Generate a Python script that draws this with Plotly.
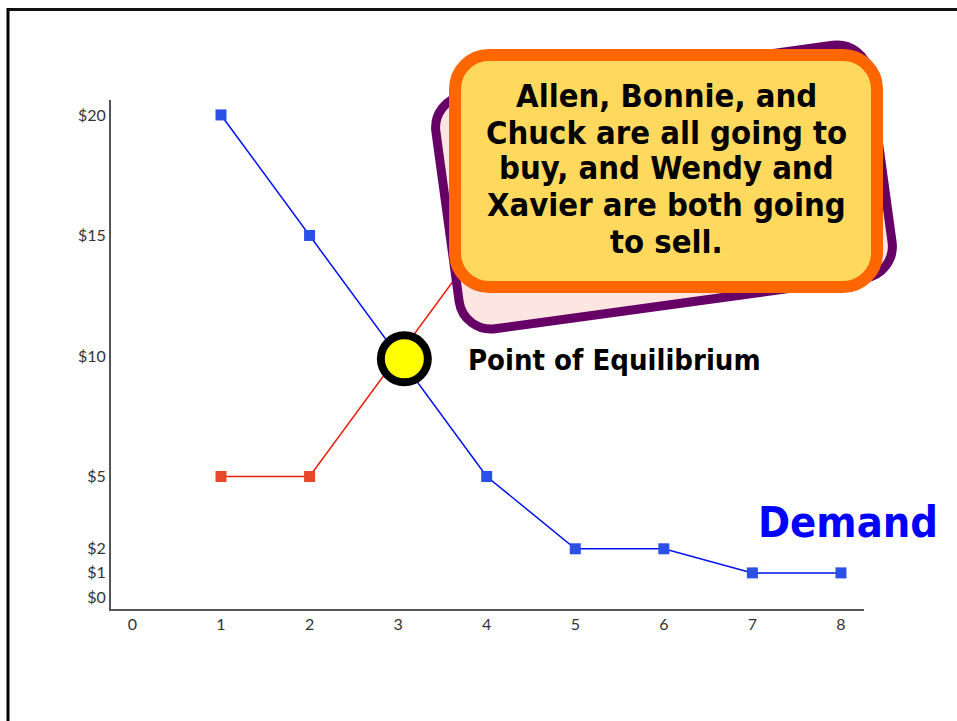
import math
import plotly.graph_objects as go

# ---- data ----
demand_q = [1, 2, 3, 4, 5, 6, 7, 8]
demand_p = [20, 15, 10, 5, 2, 2, 1, 1]
supply_q = [1, 2, 3, 4]
supply_p = [5, 5, 10, 15]
eq_q = [3.07]
eq_p = [9.88]
x_ticks = [0, 1, 2, 3, 4, 5, 6, 7, 8]
y_ticks = [0, 1, 2, 5, 10, 15, 20]
y_tick_labels = ["$0", "$1", "$2", "$5", "$10", "$15", "$20"]
callout_lines = [
    "Allen, Bonnie, and",
    "Chuck are all going to",
    "buy, and Wendy and",
    "Xavier are both going",
    "to sell.",
]
eq_label = "Point of Equilibrium"
demand_label = "Demand"

W, H = 957, 721
L, R, T, B = 111, 864, 100, 609


def px(x):
    return (x - L) / (R - L)


def py(y):
    return (B - y) / (B - T)


def rounded_rect_path(cx, cy, w, h, r, theta_deg):
    th = math.radians(theta_deg)
    c, s = math.cos(th), math.sin(th)

    def tr(u, v):
        x = cx + u * c + v * s
        y = cy - u * s + v * c
        return f"{px(x):.5f},{py(y):.5f}"

    k = 0.5523 * r
    hw, hh = w / 2, h / 2
    p = []
    p.append("M " + tr(-hw + r, -hh))
    p.append("L " + tr(hw - r, -hh))
    p.append("C " + tr(hw - r + k, -hh) + " " + tr(hw, -hh + r - k) + " " + tr(hw, -hh + r))
    p.append("L " + tr(hw, hh - r))
    p.append("C " + tr(hw, hh - r + k) + " " + tr(hw - r + k, hh) + " " + tr(hw - r, hh))
    p.append("L " + tr(-hw + r, hh))
    p.append("C " + tr(-hw + r - k, hh) + " " + tr(-hw, hh - r + k) + " " + tr(-hw, hh - r))
    p.append("L " + tr(-hw, -hh + r))
    p.append("C " + tr(-hw, -hh + r - k) + " " + tr(-hw + r - k, -hh) + " " + tr(-hw + r, -hh))
    p.append("Z")
    return " ".join(p)


fig = go.Figure()

fig.add_trace(go.Scatter(
    x=supply_q, y=supply_p, mode="lines+markers",
    line=dict(color="#e8200a", width=1.5),
    marker=dict(symbol="square", size=11, color="#e8482a"),
    showlegend=False, hoverinfo="skip",
))
fig.add_trace(go.Scatter(
    x=demand_q, y=demand_p, mode="lines+markers",
    line=dict(color="#0010f0", width=1.5),
    marker=dict(symbol="square", size=11, color="#2a50e8"),
    showlegend=False, hoverinfo="skip",
))
fig.add_trace(go.Scatter(
    x=eq_q, y=eq_p, mode="markers",
    marker=dict(symbol="circle", size=47, color="#ffff00",
                line=dict(color="#000000", width=8)),
    showlegend=False, hoverinfo="skip",
))

shapes = []
# slide frame
shapes.append(dict(type="line", xref="paper", yref="paper",
                   x0=px(8), y0=py(9.5), x1=px(960), y1=py(9.5),
                   line=dict(color="#111111", width=3)))
shapes.append(dict(type="line", xref="paper", yref="paper",
                   x0=px(8), y0=py(8), x1=px(8), y1=py(725),
                   line=dict(color="#000000", width=3)))
# rotated purple box
shapes.append(dict(type="path", xref="paper", yref="paper", layer="above",
                   path=rounded_rect_path(664, 187, 437, 235, 32, 7.8),
                   fillcolor="#fde6e1", line=dict(color="#660066", width=9)))
# orange callout box
shapes.append(dict(type="path", xref="paper", yref="paper", layer="above",
                   path=rounded_rect_path(666, 171, 422, 232, 34, 0),
                   fillcolor="#fed95d", line=dict(color="#ff6600", width=12)))

FONT = "DejaVu Sans Condensed, DejaVu Sans, sans-serif"
annotations = []
line_centers = [96, 133, 168, 205, 242]
for txt, yc in zip(callout_lines, line_centers):
    annotations.append(dict(xref="paper", yref="paper", x=px(666), y=py(yc),
                            text=f"<b>{txt}</b>", showarrow=False,
                            xanchor="center", yanchor="middle",
                            font=dict(family=FONT, size=32.5, color="#000000")))
annotations.append(dict(xref="paper", yref="paper", x=px(466), y=py(360),
                        text=f"<b>{eq_label}</b>", showarrow=False,
                        xanchor="left", yanchor="middle",
                        font=dict(family=FONT, size=29, color="#000000")))
annotations.append(dict(xref="paper", yref="paper", x=px(756), y=py(522),
                        text=f"<b>{demand_label}</b>", showarrow=False,
                        xanchor="left", yanchor="middle",
                        font=dict(family=FONT, size=43, color="#0000ff")))

fig.update_layout(
    width=W, height=H, autosize=False,
    margin=dict(l=L, r=W - R, t=T, b=H - B, pad=0),
    paper_bgcolor="white", plot_bgcolor="white",
    shapes=shapes, annotations=annotations,
    xaxis=dict(range=[-0.242, 8.26], tickvals=x_ticks, ticktext=[str(v) for v in x_ticks],
               showgrid=False, zeroline=False, showline=True, linecolor="#555555",
               linewidth=2, ticks="", tickfont=dict(family="Lato, sans-serif", size=16, color="#333333")),
    yaxis=dict(range=[-0.498, 20.62], tickvals=y_ticks, ticktext=y_tick_labels,
               showgrid=False, zeroline=False, showline=True, linecolor="#555555",
               linewidth=2, ticks="", tickfont=dict(family="Lato, sans-serif", size=16, color="#333333")),
)

fig.write_html("out.html", config={"displayModeBar": False},
               post_script="document.body.style.margin='0';document.body.style.overflow='hidden';")
